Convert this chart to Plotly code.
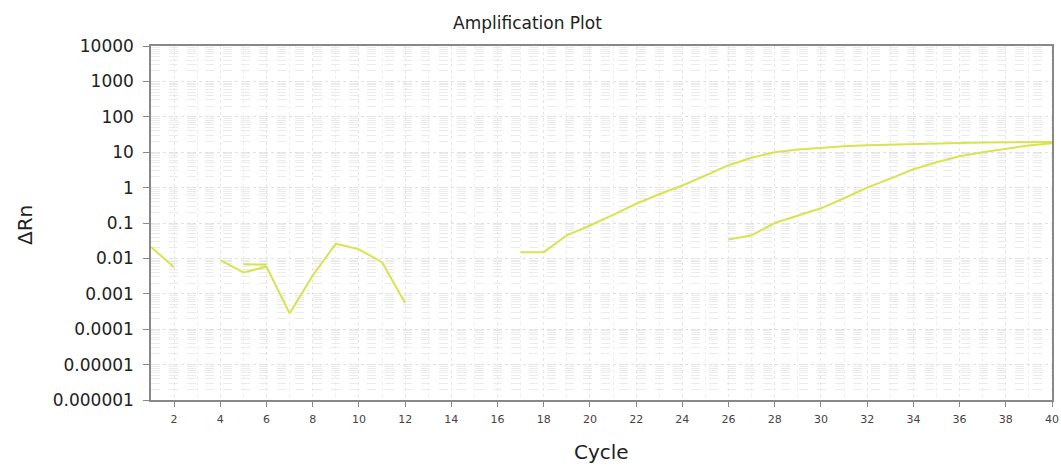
import plotly.graph_objects as go

# Background noise well (cycles 1-12), gaps where no value plotted
noise_cycles = [1, 2, 3, 4, 5, 6, 7, 8, 9, 10, 11, 12]
noise_values = [0.021, 0.0056, None, 0.009, 0.004, 0.0058, 0.00028, 0.0033, 0.026, 0.018, 0.0078, 0.00055]

noise2_cycles = [5, 6]
noise2_values = [0.0068, 0.0066]

# Early amplifying well (cycles 17-40)
early_cycles = list(range(17, 41))
early_values = [0.015, 0.015, 0.045, 0.085, 0.17, 0.35, 0.65, 1.15, 2.2, 4.3, 7.0, 10.0,
                12.0, 13.5, 14.8, 15.8, 16.5, 17.0, 17.8, 18.3, 18.7, 19.0, 19.3, 19.5]

# Late amplifying well (cycles 26-40)
late_cycles = list(range(26, 41))
late_values = [0.034, 0.045, 0.1, 0.16, 0.26, 0.5, 1.0, 1.8, 3.3, 5.2, 7.7, 10.0, 12.7, 15.5, 18.0]

y_tickvals = [1e4, 1e3, 1e2, 1e1, 1, 0.1, 0.01, 0.001, 0.0001, 0.00001, 0.000001]
y_ticktext = ["10000", "1000", "100", "10", "1", "0.1", "0.01", "0.001", "0.0001", "0.00001", "0.000001"]
x_tickvals = list(range(2, 41, 2))

line_color = "#d8e350"

fig = go.Figure()
for xs, ys in [(noise_cycles, noise_values), (noise2_cycles, noise2_values),
               (early_cycles, early_values), (late_cycles, late_values)]:
    fig.add_trace(go.Scatter(x=xs, y=ys, mode="lines",
                             line=dict(color=line_color, width=2),
                             connectgaps=False, showlegend=False, hoverinfo="skip"))

fig.update_layout(
    width=1061, height=466,
    margin=dict(l=151, r=9, t=46, b=66, autoexpand=False),
    paper_bgcolor="white", plot_bgcolor="white",
    font=dict(family="DejaVu Sans", color="#222222"),
    showlegend=False,
    annotations=[
        dict(text="Amplification Plot", xref="paper", yref="paper", x=(527 - 151) / 901,
             y=1 + (46 - 23) / 354, xanchor="center", yanchor="middle", showarrow=False,
             font=dict(size=17, color="#222222")),
        dict(text="Cycle", xref="paper", yref="paper", x=0.5, y=-(452 - 400) / 354,
             xanchor="center", yanchor="middle", showarrow=False,
             font=dict(size=20, color="#222222")),
        dict(text="ΔRn", xref="paper", yref="paper", x=-(151 - 25) / 901, y=(400 - 225) / 354,
             xanchor="center", yanchor="middle", showarrow=False, textangle=-90,
             font=dict(size=20, color="#222222")),
    ],
)

fig.update_xaxes(
    range=[1, 40], tickvals=x_tickvals, automargin=False,
    tickfont=dict(size=11, color="#444444"), ticklabelstandoff=3,
    ticks="outside", ticklen=5, tickcolor="#888888",
    showline=True, linecolor="#888888", linewidth=1.5, mirror=True,
    showgrid=True, gridcolor="#e6e6e6", gridwidth=1, griddash="dot",
    minor=dict(dtick=1, showgrid=True, gridcolor="#eeeeee", griddash="dot", ticks=""),
    zeroline=False,
)

fig.update_yaxes(
    type="log", range=[-6, 4], tickvals=y_tickvals, ticktext=y_ticktext, automargin=False,
    tickfont=dict(size=17, color="#222222"), ticklabelstandoff=6,
    ticks="outside", ticklen=6, tickcolor="#888888",
    showline=True, linecolor="#888888", linewidth=1.5, mirror=True,
    showgrid=True, gridcolor="#e0e0e0", gridwidth=1, griddash="dot",
    minor=dict(dtick="D1", showgrid=True, gridcolor="#ebebeb", griddash="dash", ticks=""),
    zeroline=False,
)

fig.write_html("out.html", config={"displayModeBar": False},
               post_script="document.body.style.margin='0';document.body.style.overflow='hidden';")
